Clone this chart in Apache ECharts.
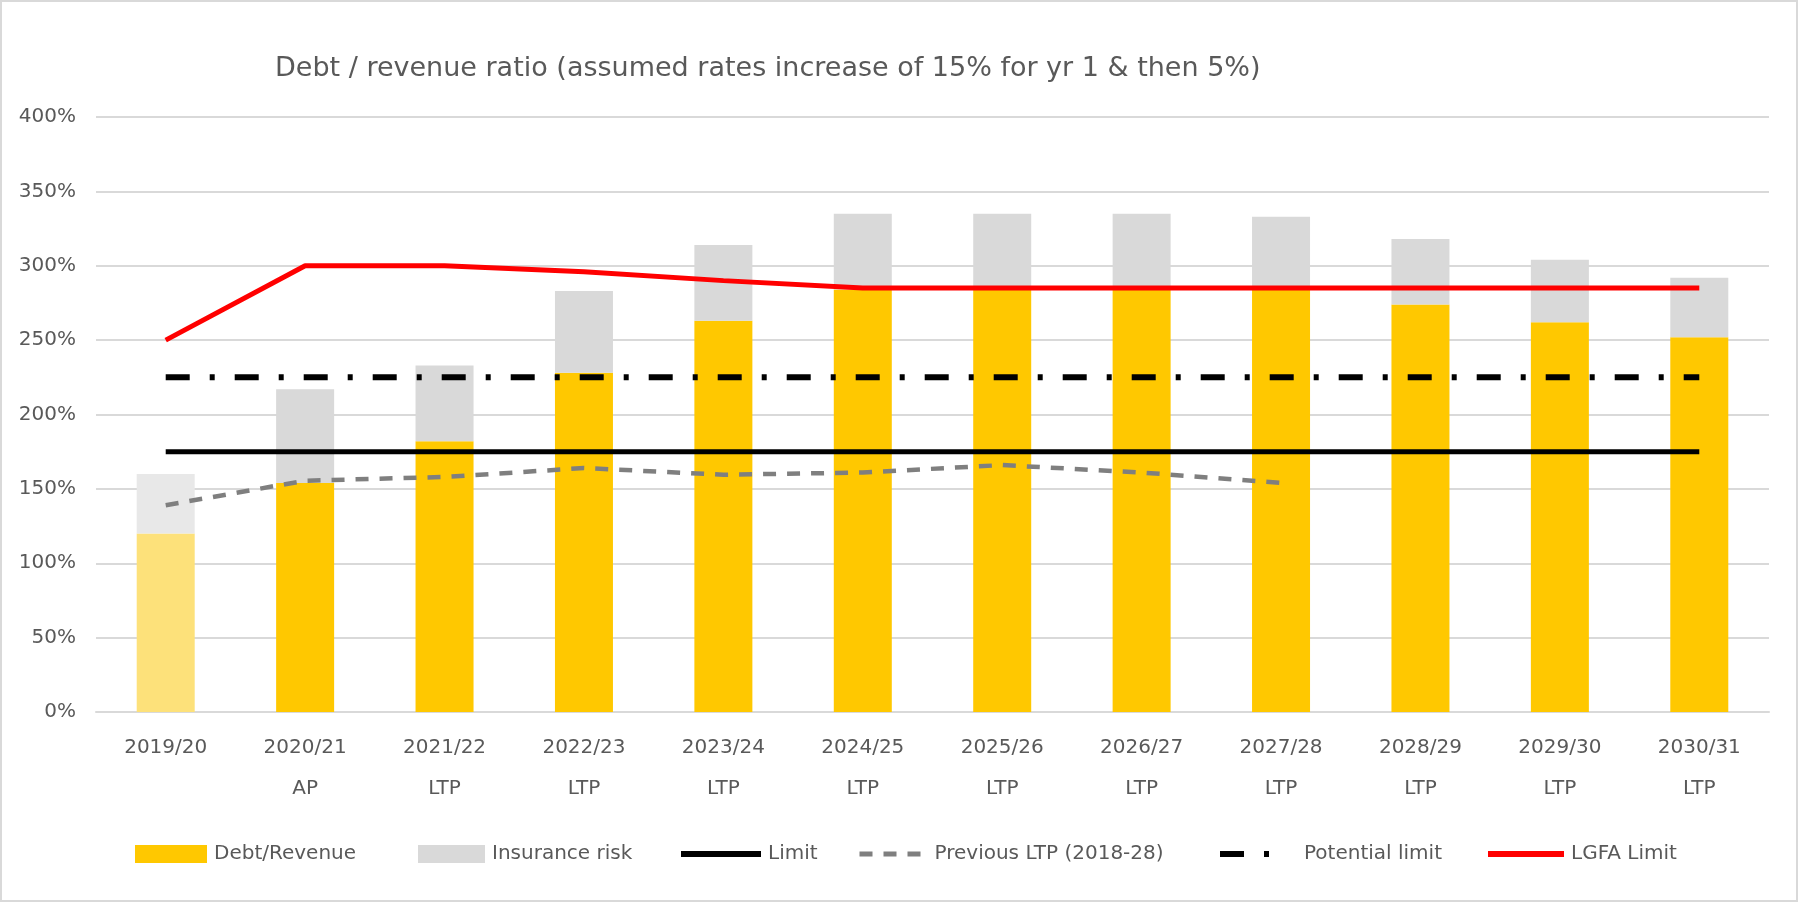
<!DOCTYPE html>
<html>
<head>
<meta charset="utf-8">
<script src="https://cdn.jsdelivr.net/npm/echarts@6/dist/echarts.min.js"></script>
<style>
  html, body { margin: 0; padding: 0; background: #fff; }
  #chart { width: 1800px; height: 905px; }
</style>
</head>
<body>
<div id="chart"></div>
<script>
const categories = ['2019/20', '2020/21\nAP', '2021/22\nLTP', '2022/23\nLTP', '2023/24\nLTP', '2024/25\nLTP',
  '2025/26\nLTP', '2026/27\nLTP', '2027/28\nLTP', '2028/29\nLTP', '2029/30\nLTP', '2030/31\nLTP']

const debtRevenue = [120, 154, 182, 228, 263, 284, 284, 284, 284, 274, 262, 252]
const insuranceRisk = [40, 63, 51, 55, 51, 51, 51, 51, 49, 44, 42, 40]
const limit = [175, 175, 175, 175, 175, 175, 175, 175, 175, 175, 175, 175]
const previousLtp = [139, 155.5, 158, 164, 159.5, 161, 166, 161, 154, null, null, null]
const potentialLimit = [225, 225, 225, 225, 225, 225, 225, 225, 225, 225, 225, 225]
const lgfaLimit = [250, 300, 300, 296, 290, 285, 285, 285, 285, 285, 285, 285]

const yTicks = { min: 0, max: 400, interval: 50 }

const textColor = '#595959'
const font = 'DejaVu Sans'

// first year is actual, drawn paler
function barData (values, firstColor) {
  return values.map((v, i) => i === 0 ? { value: v, itemStyle: { color: firstColor } } : v)
}

// one legend per item so each can sit where the original has it
function legendAt (name, left, width, opts) {
  opts = opts || {}
  const legend = {
    data: [name],
    left: left,
    top: 844,
    padding: 0,
    itemWidth: width,
    itemHeight: 18,
    itemGap: 0,
    textStyle: { fontFamily: font, fontSize: 20, color: textColor, padding: [0, 0, 0, opts.textPad || 2] }
  }
  if (opts.lineWidth) {
    legend.lineStyle = { width: opts.lineWidth }
    // hide the circle ECharts puts on line icons
    legend.itemStyle = { color: 'rgba(0,0,0,0)', borderWidth: 0, opacity: 0 }
  } else {
    legend.icon = 'rect'
  }
  return legend
}

const chart = echarts.init(document.getElementById('chart'))

chart.setOption({
  animation: false,
  backgroundColor: '#fff',
  title: {
    text: 'Debt / revenue ratio (assumed rates increase of 15% for yr 1 & then 5%)',
    left: 270,
    top: 50,
    textStyle: { fontFamily: font, fontSize: 27, fontWeight: 'normal', color: textColor }
  },
  graphic: [{
    type: 'rect',
    shape: { x: 1, y: 1, width: 1796, height: 900 },
    style: { fill: 'none', stroke: '#d9d9d9', lineWidth: 2 },
    silent: true
  }],
  legend: [
    legendAt('Debt/Revenue', 135, 72),
    legendAt('Insurance risk', 418, 67),
    legendAt('Limit', 678, 80, { lineWidth: 6 }),
    legendAt('Previous LTP (2018-28)', 857, 68, { lineWidth: 5 }),
    legendAt('Potential limit', 1217, 52, { lineWidth: 6, textPad: 27 }),
    legendAt('LGFA Limit', 1485, 76, { lineWidth: 6 })
  ],
  grid: {
    left: 96,
    right: 31,
    top: 117,
    bottom: 193
  },
  xAxis: {
    type: 'category',
    data: categories,
    axisLine: { lineStyle: { color: '#d9d9d9', width: 2 } },
    axisTick: { show: false },
    axisLabel: {
      fontFamily: font,
      fontSize: 20,
      color: textColor,
      lineHeight: 41,
      margin: 15
    }
  },
  yAxis: {
    type: 'value',
    min: yTicks.min,
    max: yTicks.max,
    interval: yTicks.interval,
    axisLine: { show: false },
    axisTick: { show: false },
    splitLine: { lineStyle: { color: '#d9d9d9', width: 2 } },
    axisLabel: {
      formatter: '{value}%',
      fontFamily: font,
      fontSize: 20,
      color: textColor,
      margin: 20
    }
  },
  series: [
    {
      name: 'Debt/Revenue',
      type: 'bar',
      stack: 'total',
      barWidth: 58,
      itemStyle: { color: '#ffc800' },
      data: barData(debtRevenue, '#fde17a')
    },
    {
      name: 'Insurance risk',
      type: 'bar',
      stack: 'total',
      barWidth: 58,
      itemStyle: { color: '#d9d9d9' },
      data: barData(insuranceRisk, '#e8e8e8')
    },
    {
      name: 'Limit',
      type: 'line',
      symbol: 'none',
      lineStyle: { color: '#000', width: 5 },
      itemStyle: { color: '#000' },
      data: limit
    },
    {
      name: 'Previous LTP (2018-28)',
      type: 'line',
      symbol: 'none',
      lineStyle: { color: '#7f7f7f', width: 4.5, type: [13, 11] },
      itemStyle: { color: '#7f7f7f' },
      data: previousLtp
    },
    {
      name: 'Potential limit',
      type: 'line',
      symbol: 'none',
      lineStyle: { color: '#000', width: 6, type: [24, 20, 5, 20] },
      itemStyle: { color: '#000' },
      data: potentialLimit
    },
    {
      name: 'LGFA Limit',
      type: 'line',
      symbol: 'none',
      lineStyle: { color: '#ff0000', width: 5 },
      itemStyle: { color: '#ff0000' },
      data: lgfaLimit
    }
  ]
})

window.addEventListener('resize', () => chart.resize())
</script>
</body>
</html>
